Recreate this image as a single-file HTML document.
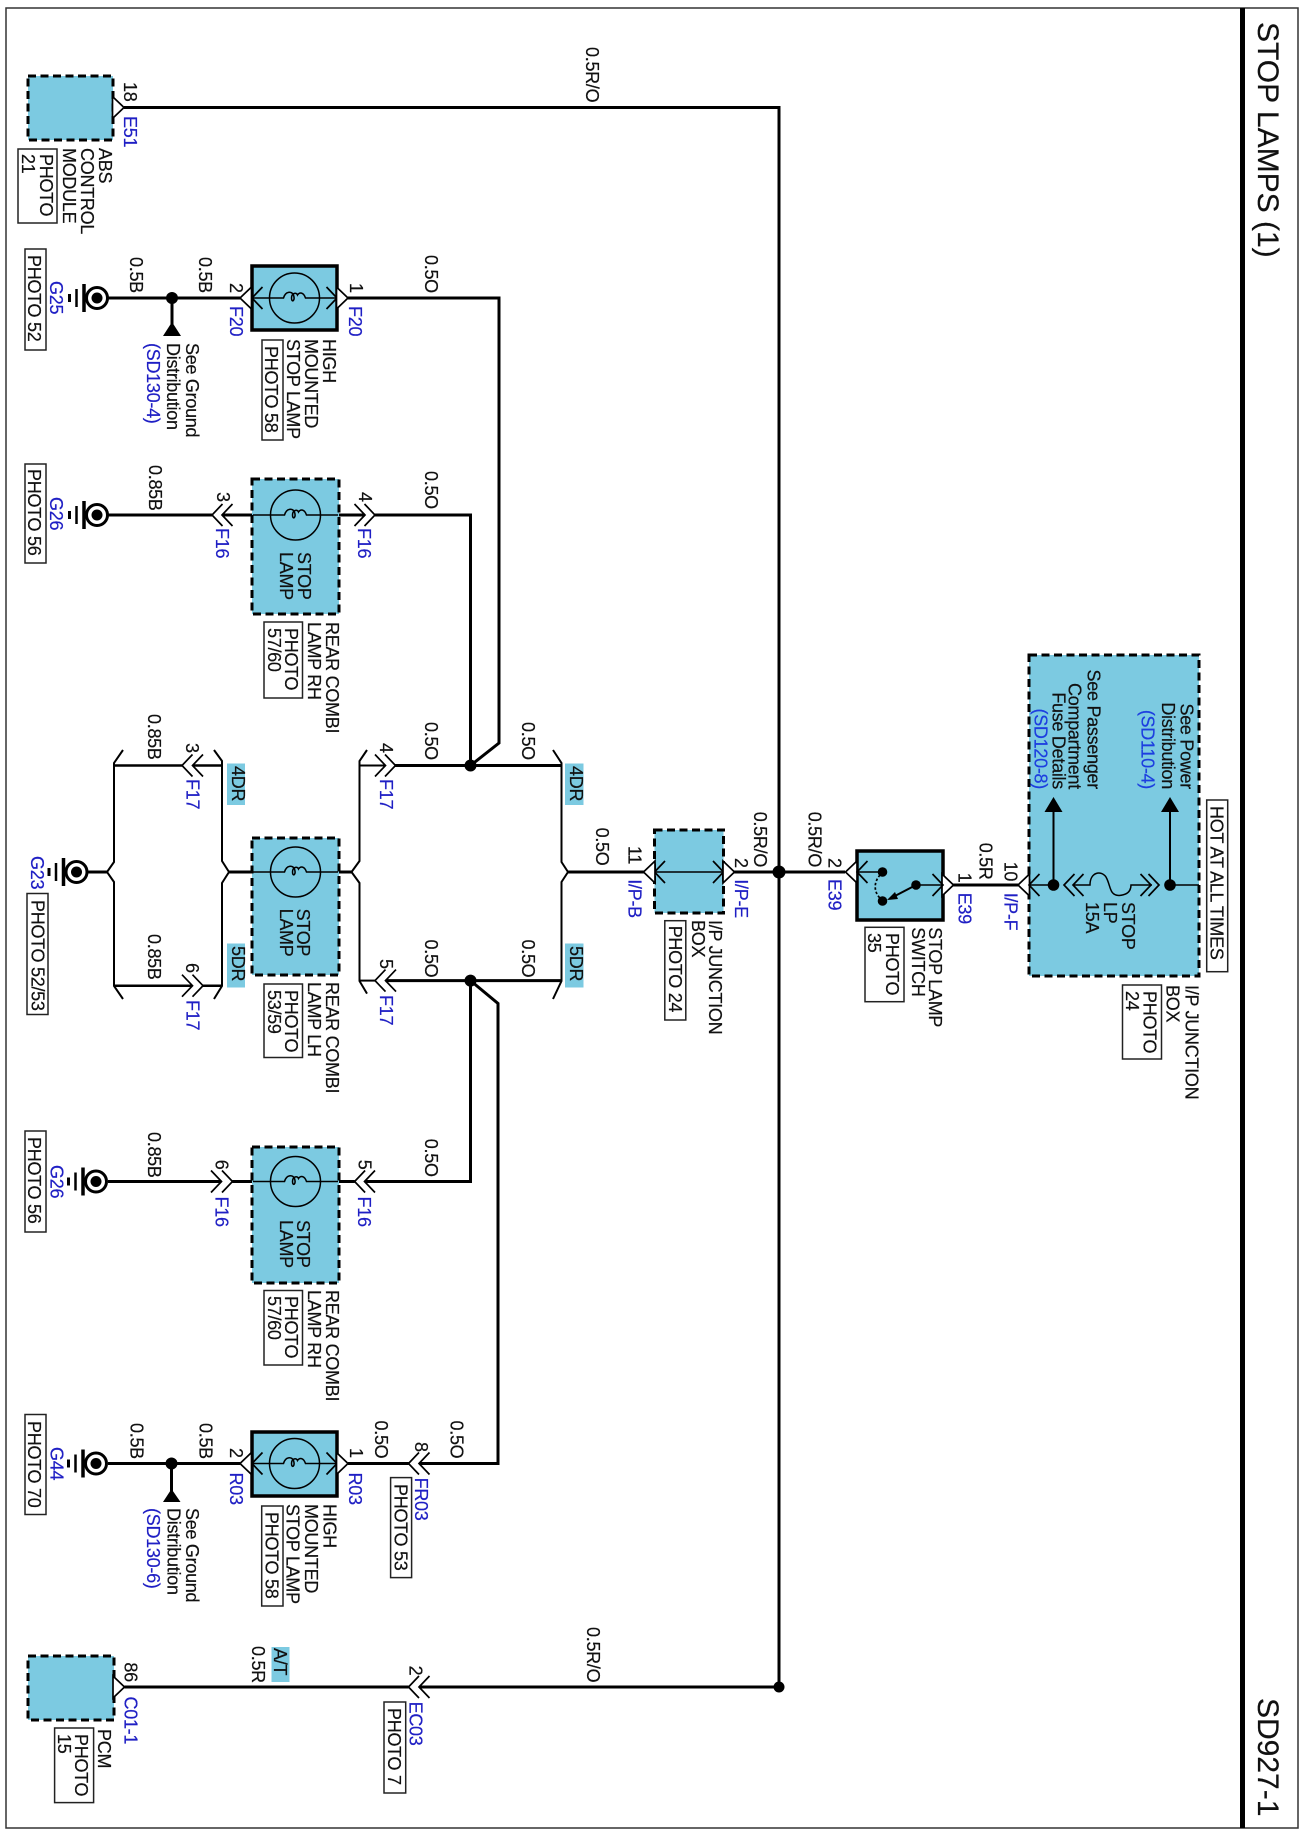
<!DOCTYPE html>
<html><head><meta charset="utf-8"><style>
html,body{margin:0;padding:0;background:#fff}
svg{display:block}
text{font-family:"Liberation Sans",sans-serif;font-size:18px;letter-spacing:-.28px;fill:#111;stroke:#111;stroke-width:.2}
.b{fill:#1f1fc4;stroke:#1f1fc4}
.w{fill:none;stroke:#000;stroke-width:3}
.t{fill:none;stroke:#000;stroke-width:2}
.f{fill:none;stroke:#000;stroke-width:1.5}
.d{fill:#7ccae1;stroke:#000;stroke-width:3;stroke-dasharray:8 4.5}
.s{fill:#7ccae1;stroke:#000;stroke-width:3.5}
.p{fill:#fff;stroke:#222;stroke-width:1.5}
.tag{fill:#7ccae1}
</style></head><body>
<svg xmlns="http://www.w3.org/2000/svg" width="1304" height="1834" viewBox="0 0 1304 1834">
<defs>
<g id="gnd"><circle cx="97" cy="0" r="10.5" fill="#fff" stroke="#000" stroke-width="3"/><circle cx="97" cy="0" r="5.5" fill="#000"/><path d="M84 -14V14" stroke="#000" stroke-width="3.5" fill="none"/><path d="M76.5 -9V9" stroke="#000" stroke-width="2.5" fill="none"/><path d="M69.5 -4V4" stroke="#000" stroke-width="3" fill="none"/></g>
<path id="cl" d="M10.5 -11L0 0L10.5 11" fill="none" stroke="#000" stroke-width="1.7"/>
<path id="cr" d="M-10.5 -11L0 0L-10.5 11" fill="none" stroke="#000" stroke-width="1.7"/>
<path id="wl" d="M11.5 -11L0 0L11.5 11Z" fill="#fff" stroke="#000" stroke-width="1.7"/>
<path id="wr" d="M-11.5 -11L0 0L-11.5 11Z" fill="#fff" stroke="#000" stroke-width="1.7"/>
<g id="lamp"><circle r="25" fill="none" stroke="#000" stroke-width="1.5"/><path d="M-42.5 0H-11C-9 -7 -3 -7 -1 -3C1 3 -3 5 -3 0C-3 -5 2 -6 3 -3C5 -6 9 -6 11 0H42.5" fill="none" stroke="#000" stroke-width="1.5"/></g>
</defs>
<rect width="1304" height="1834" fill="#fff"/>

<!-- frame -->
<rect x="6" y="8" width="1292" height="1820" fill="none" stroke="#333" stroke-width="1.5"/>
<path d="M1242.5 8V1828" stroke="#000" stroke-width="5" fill="none"/>
<text style="font-size:30px;letter-spacing:0" transform="translate(1258 22) rotate(90)">STOP LAMPS (1)</text>
<text style="font-size:30px;letter-spacing:0" transform="translate(1258 1698) rotate(90)">SD927-1</text>

<!-- boxes -->
<rect class="d" x="28" y="76" width="85" height="64"/>
<rect class="s" x="252" y="266" width="85" height="64"/>
<rect class="d" x="252" y="479" width="87" height="135"/>
<rect class="d" x="252" y="838" width="87" height="137"/>
<rect class="d" x="252" y="1147" width="87" height="136"/>
<rect class="s" x="252" y="1432" width="85" height="64"/>
<rect class="d" x="28" y="1656" width="86" height="64"/>
<rect class="d" x="654.5" y="830" width="69" height="83"/>
<rect class="s" x="857" y="851" width="86" height="69"/>
<rect class="d" x="1029" y="655" width="170" height="321"/>

<!-- tags -->
<rect class="tag" x="227" y="763.5" width="18" height="41.5"/>
<rect class="tag" x="227" y="943.5" width="18" height="44"/>
<rect class="tag" x="565" y="763.5" width="18.5" height="41.5"/>
<rect class="tag" x="565" y="943.5" width="18.5" height="44"/>
<rect class="tag" x="271.5" y="1647" width="18" height="35"/>

<!-- main wires -->
<path class="w" d="M124 107.5H779V1687H419"/>
<path class="w" d="M408.5 1687H124.5"/>
<path class="w" d="M348 298H499V743L470.5 765.5"/>
<path class="w" d="M375 515H470.5V765.5"/>
<path class="w" d="M395 765.5H561"/>
<path class="t" d="M385.5 765.5H359.5"/>
<path class="w" d="M385.5 980.6H561"/>
<path class="t" d="M375 980.6H359.5"/>
<path class="w" d="M470.5 980.6V1181.5H364.5"/>
<path class="w" d="M470.5 980.6L498 1003.5V1463.5H419"/>
<path class="w" d="M408.5 1463.5H348"/>
<path class="w" d="M108 298H240"/>
<path class="w" d="M108 515H212"/>
<path class="w" d="M222 515H252M339 515H365"/>
<path class="w" d="M108 1181.5H221.5M232.5 1181.5H252M339 1181.5H354.6"/>
<path class="w" d="M108 1463.5H240"/>
<path class="w" d="M172 298V326M171.5 1463.5V1492"/>
<path class="w" d="M87 872H107"/>
<path class="w" d="M229 872H252M339 872H351.5"/>
<path class="w" d="M568 872H644M734 872H845"/>
<path class="w" d="M953 885H1018"/>

<!-- brackets -->
<path class="t" d="M123 750L114 763V862L107 872L114 882V986L123 999"/>
<path class="t" d="M214 750L222 761V861L229 872L222 883V986L214 999"/>
<path class="t" d="M367 750L359.5 761V861L351.5 872L359.5 883V981L367 993.6"/>
<path class="t" d="M553 750L561.5 763V862L568 872L561.5 882V981L553 999"/>
<path class="w" style="stroke-width:2.5" d="M114 765.5H182M192.5 765.5H222M114 985.7H192.5M203 985.7H222"/>

<!-- lamps -->
<use href="#lamp" x="294.5" y="298"/>
<use href="#lamp" x="295.5" y="515"/>
<use href="#lamp" x="295.5" y="872"/>
<use href="#lamp" x="295.5" y="1181.5"/>
<use href="#lamp" x="294.5" y="1463.5"/>

<!-- inner chevrons -->
<use href="#cl" x="252" y="298"/><use href="#cr" x="337" y="298"/>
<use href="#cl" x="252" y="1463.5"/><use href="#cr" x="337" y="1463.5"/>
<use href="#cl" x="654.5" y="872"/><use href="#cr" x="723.5" y="872"/>
<path class="f" d="M654.5 872H723.5"/>

<!-- outer white connectors -->
<use href="#wr" x="124" y="107.5"/>
<use href="#wl" x="240" y="298"/><use href="#wr" x="348" y="298"/>
<use href="#wl" x="240" y="1463.5"/><use href="#wr" x="348" y="1463.5"/>
<use href="#wr" x="124.5" y="1687"/>
<use href="#wl" x="643.5" y="872"/><use href="#wr" x="734.5" y="872"/>
<use href="#wl" x="845.5" y="872"/><use href="#wr" x="953.5" y="885"/>
<use href="#wl" x="1018" y="885"/>

<!-- double chevrons -->
<use href="#cl" x="212" y="515"/><use href="#cl" x="222" y="515"/>
<use href="#cr" x="365" y="515"/><use href="#cr" x="375" y="515"/>
<use href="#cl" x="182" y="765.5"/><use href="#cl" x="192.5" y="765.5"/>
<use href="#cr" x="385.5" y="765.5"/><use href="#cr" x="395.5" y="765.5"/>
<use href="#cr" x="192.5" y="985.7"/><use href="#cr" x="203" y="985.7"/>
<use href="#cl" x="375" y="980.6"/><use href="#cl" x="385.5" y="980.6"/>
<use href="#cr" x="221.5" y="1181.5"/><use href="#cr" x="232.5" y="1181.5"/>
<use href="#cl" x="354.6" y="1181.5"/><use href="#cl" x="364.5" y="1181.5"/>
<use href="#cl" x="408.5" y="1463.5"/><use href="#cl" x="419" y="1463.5"/>
<use href="#cl" x="408.5" y="1687"/><use href="#cl" x="419" y="1687"/>

<!-- dots -->
<g fill="#000">
<circle cx="779" cy="872" r="6.5"/><circle cx="779" cy="1687" r="5.5"/>
<circle cx="470.5" cy="765.5" r="6"/><circle cx="470.5" cy="980.6" r="6"/>
<circle cx="172" cy="298" r="6"/><circle cx="171.5" cy="1463.5" r="6"/>
<path d="M172 322L163 336H181Z"/><path d="M171.5 1489L163 1502H180.5Z"/>
</g>

<!-- grounds -->
<use href="#gnd" y="298"/><use href="#gnd" y="515"/>
<use href="#gnd" x="-20.5" y="872"/>
<use href="#gnd" x="-1" y="1181.5"/><use href="#gnd" x="-1" y="1463.5"/>

<!-- switch -->
<use href="#cl" x="857" y="872"/><use href="#cr" x="943" y="885"/>
<path class="f" d="M857 872H882M916 885H943"/>
<path d="M880 875C873 883 874 893 881 899" fill="none" stroke="#000" stroke-width="1.7" stroke-dasharray="2.5 2"/>
<path d="M916 885L893 897" stroke="#000" stroke-width="2" fill="none"/>
<path d="M887 900L895 892L898 899Z" fill="#000"/>
<g fill="#000"><circle cx="882.5" cy="872" r="4.8"/><circle cx="882.5" cy="901" r="4.8"/><circle cx="916" cy="885" r="4.8"/></g>

<!-- junction box internals -->
<path class="f" d="M1029 885H1054M1073 885H1090C1090 872 1101 870 1106 877C1111 886 1109 895 1119 895.5C1126 895 1131 892 1131 885H1152M1170 885H1199"/>
<use href="#cl" x="1029" y="885"/>
<use href="#cl" x="1064" y="885"/><use href="#cl" x="1073" y="885"/>
<use href="#cr" x="1151" y="885"/><use href="#cr" x="1159" y="885"/>
<path d="M1053.5 885V808M1170 885V808" stroke="#000" stroke-width="2" fill="none"/>
<g fill="#000"><circle cx="1053.5" cy="885" r="5.8"/><circle cx="1170" cy="885" r="5.8"/>
<path d="M1053.5 797L1044.5 812H1062.5Z"/><path d="M1170 797L1161 812H1179Z"/></g>

<!-- photo boxes -->
<rect class="p" x="18" y="149" width="39" height="74"/>
<rect class="p" x="25" y="249" width="21" height="101"/>
<rect class="p" x="262" y="340" width="21" height="100"/>
<rect class="p" x="25" y="464" width="21" height="99"/>
<rect class="p" x="264" y="622" width="38.5" height="76"/>
<rect class="p" x="27" y="893.5" width="21" height="121"/>
<rect class="p" x="264" y="984" width="38.5" height="73.5"/>
<rect class="p" x="25" y="1131" width="21" height="101"/>
<rect class="p" x="264" y="1290.5" width="38.5" height="74.5"/>
<rect class="p" x="25" y="1414.5" width="21" height="100"/>
<rect class="p" x="261.7" y="1506" width="21.3" height="100"/>
<rect class="p" x="390.6" y="1477.6" width="21" height="100"/>
<rect class="p" x="54.6" y="1728" width="39" height="74.6"/>
<rect class="p" x="384" y="1702" width="21.7" height="91"/>
<rect class="p" x="664.8" y="920.7" width="21" height="99.3"/>
<rect class="p" x="865" y="927.3" width="39" height="74.4"/>
<rect class="p" x="1122.5" y="985" width="39" height="74"/>
<rect class="p" x="1206.7" y="800" width="21" height="171.7"/>

<!-- labels: black -->
<text transform="translate(586 47) rotate(90)">0.5R/O</text>
<text transform="translate(587 1627) rotate(90)">0.5R/O</text>
<text transform="translate(124 82) rotate(90)">18</text>
<text transform="translate(99 148) rotate(90)">ABS</text>
<text transform="translate(81 148) rotate(90)">CONTROL</text>
<text transform="translate(63 148) rotate(90)">MODULE</text>
<text transform="translate(40 154) rotate(90)">PHOTO</text>
<text transform="translate(22 154) rotate(90)">21</text>

<text transform="translate(130 257) rotate(90)">0.5B</text>
<text transform="translate(199 257) rotate(90)">0.5B</text>
<text transform="translate(230 283) rotate(90)">2</text>
<text transform="translate(350 283) rotate(90)">1</text>
<text transform="translate(425 255) rotate(90)">0.5O</text>
<text transform="translate(28 255) rotate(90)">PHOTO 52</text>
<text transform="translate(186 343) rotate(90)">See Ground</text>
<text transform="translate(167 343) rotate(90)">Distribution</text>
<text transform="translate(323 339) rotate(90)">HIGH</text>
<text transform="translate(305 339) rotate(90)">MOUNTED</text>
<text transform="translate(287 339) rotate(90)">STOP LAMP</text>
<text transform="translate(265 346) rotate(90)">PHOTO 58</text>

<text transform="translate(149 465) rotate(90)">0.85B</text>
<text transform="translate(217 492) rotate(90)">3</text>
<text transform="translate(359 492) rotate(90)">4</text>
<text transform="translate(425 471) rotate(90)">0.5O</text>
<text transform="translate(28 469) rotate(90)">PHOTO 56</text>
<text transform="translate(298 552) rotate(90)">STOP</text>
<text transform="translate(280 552) rotate(90)">LAMP</text>
<text transform="translate(326 622) rotate(90)">REAR COMBI</text>
<text transform="translate(308 622) rotate(90)">LAMP RH</text>
<text transform="translate(285 628) rotate(90)">PHOTO</text>
<text transform="translate(268 628) rotate(90)">57/60</text>

<text transform="translate(148 714) rotate(90)">0.85B</text>
<text transform="translate(148 934) rotate(90)">0.85B</text>
<text transform="translate(186 743) rotate(90)">3</text>
<text transform="translate(186 963) rotate(90)">6</text>
<text transform="translate(232 766) rotate(90)">4DR</text>
<text transform="translate(232 946) rotate(90)">5DR</text>
<text transform="translate(570 766) rotate(90)">4DR</text>
<text transform="translate(570 946) rotate(90)">5DR</text>
<text transform="translate(380 743) rotate(90)">4</text>
<text transform="translate(380 959) rotate(90)">5</text>
<text transform="translate(425 722) rotate(90)">0.5O</text>
<text transform="translate(522 722) rotate(90)">0.5O</text>
<text transform="translate(425 939.5) rotate(90)">0.5O</text>
<text transform="translate(522 939.5) rotate(90)">0.5O</text>
<text transform="translate(596 827.6) rotate(90)">0.5O</text>
<text transform="translate(31.5 900) rotate(90)">PHOTO 52/53</text>
<text transform="translate(297 908.6) rotate(90)">STOP</text>
<text transform="translate(280 908.6) rotate(90)">LAMP</text>
<text transform="translate(326 982) rotate(90)">REAR COMBI</text>
<text transform="translate(308 982) rotate(90)">LAMP LH</text>
<text transform="translate(285 990) rotate(90)">PHOTO</text>
<text transform="translate(268 990) rotate(90)">53/59</text>

<text transform="translate(148 1132) rotate(90)">0.85B</text>
<text transform="translate(215.5 1159.7) rotate(90)">6</text>
<text transform="translate(358.6 1159.7) rotate(90)">5</text>
<text transform="translate(425 1138.8) rotate(90)">0.5O</text>
<text transform="translate(28 1137) rotate(90)">PHOTO 56</text>
<text transform="translate(297 1220) rotate(90)">STOP</text>
<text transform="translate(280 1220) rotate(90)">LAMP</text>
<text transform="translate(326 1290) rotate(90)">REAR COMBI</text>
<text transform="translate(308 1290) rotate(90)">LAMP RH</text>
<text transform="translate(285 1296) rotate(90)">PHOTO</text>
<text transform="translate(268 1296) rotate(90)">57/60</text>

<text transform="translate(130.5 1423) rotate(90)">0.5B</text>
<text transform="translate(199.7 1423) rotate(90)">0.5B</text>
<text transform="translate(230 1448) rotate(90)">2</text>
<text transform="translate(350 1448) rotate(90)">1</text>
<text transform="translate(375 1420.5) rotate(90)">0.5O</text>
<text transform="translate(450.7 1420.5) rotate(90)">0.5O</text>
<text transform="translate(415 1442) rotate(90)">8</text>
<text transform="translate(394.6 1484) rotate(90)">PHOTO 53</text>
<text transform="translate(28 1421) rotate(90)">PHOTO 70</text>
<text transform="translate(186 1508) rotate(90)">See Ground</text>
<text transform="translate(167.6 1508) rotate(90)">Distribution</text>
<text transform="translate(323.4 1504) rotate(90)">HIGH</text>
<text transform="translate(305 1504) rotate(90)">MOUNTED</text>
<text transform="translate(286.6 1504) rotate(90)">STOP LAMP</text>
<text transform="translate(265.7 1512) rotate(90)">PHOTO 58</text>

<text transform="translate(124.5 1662.4) rotate(90)">86</text>
<text transform="translate(98 1729) rotate(90)">PCM</text>
<text transform="translate(75 1734) rotate(90)">PHOTO</text>
<text transform="translate(58 1734) rotate(90)">15</text>
<text transform="translate(252 1646) rotate(90)">0.5R</text>
<text transform="translate(274 1648) rotate(90)">A/T</text>
<text transform="translate(409.5 1665.6) rotate(90)">2</text>
<text transform="translate(388 1708) rotate(90)">PHOTO 7</text>

<text transform="translate(628.4 846) rotate(90)">11</text>
<text transform="translate(734.8 858) rotate(90)">2</text>
<text transform="translate(754 811.7) rotate(90)">0.5R/O</text>
<text transform="translate(808.7 811.7) rotate(90)">0.5R/O</text>
<text transform="translate(709 920) rotate(90)">I/P JUNCTION</text>
<text transform="translate(692 920) rotate(90)">BOX</text>
<text transform="translate(669 925.7) rotate(90)">PHOTO 24</text>

<text transform="translate(828.6 858) rotate(90)">2</text>
<text transform="translate(958.7 872.7) rotate(90)">1</text>
<text transform="translate(979.7 842.7) rotate(90)">0.5R</text>
<text transform="translate(1004.6 861.7) rotate(90)">10</text>
<text transform="translate(929 927.3) rotate(90)">STOP LAMP</text>
<text transform="translate(912 927.3) rotate(90)">SWITCH</text>
<text transform="translate(886 933) rotate(90)">PHOTO</text>
<text transform="translate(868 933) rotate(90)">35</text>

<text text-anchor="end" transform="translate(1180.6 789) rotate(90)">See Power</text>
<text text-anchor="end" transform="translate(1162 789) rotate(90)">Distribution</text>
<text text-anchor="end" transform="translate(1087.7 789) rotate(90)">See Passenger</text>
<text text-anchor="end" transform="translate(1068.5 789) rotate(90)">Compartment</text>
<text text-anchor="end" transform="translate(1052.5 789) rotate(90)">Fuse Details</text>
<text transform="translate(1122 902) rotate(90)">STOP</text>
<text transform="translate(1104 902) rotate(90)">LP</text>
<text transform="translate(1086 902) rotate(90)">15A</text>
<text transform="translate(1210.5 806) rotate(90)">HOT AT ALL TIMES</text>
<text transform="translate(1185.6 985) rotate(90)">I/P JUNCTION</text>
<text transform="translate(1166.5 985) rotate(90)">BOX</text>
<text transform="translate(1143.5 991) rotate(90)">PHOTO</text>
<text transform="translate(1126 991) rotate(90)">24</text>

<!-- labels: blue -->
<text class="b" transform="translate(124 116) rotate(90)">E51</text>
<text class="b" transform="translate(230 306) rotate(90)">F20</text>
<text class="b" transform="translate(349 306) rotate(90)">F20</text>
<text class="b" transform="translate(50 281) rotate(90)">G25</text>
<text class="b" transform="translate(147 343) rotate(90)">(SD130-4)</text>
<text class="b" transform="translate(216 528) rotate(90)">F16</text>
<text class="b" transform="translate(358 528) rotate(90)">F16</text>
<text class="b" transform="translate(50 497) rotate(90)">G26</text>
<text class="b" transform="translate(186.6 779) rotate(90)">F17</text>
<text class="b" transform="translate(186.6 1000) rotate(90)">F17</text>
<text class="b" transform="translate(380 779) rotate(90)">F17</text>
<text class="b" transform="translate(380 995) rotate(90)">F17</text>
<text class="b" transform="translate(31 856) rotate(90)">G23</text>
<text class="b" transform="translate(215.5 1196.5) rotate(90)">F16</text>
<text class="b" transform="translate(358 1196.5) rotate(90)">F16</text>
<text class="b" transform="translate(50.6 1165) rotate(90)">G26</text>
<text class="b" transform="translate(230 1472.5) rotate(90)">R03</text>
<text class="b" transform="translate(349 1472.5) rotate(90)">R03</text>
<text class="b" transform="translate(415 1477.6) rotate(90)">FR03</text>
<text class="b" transform="translate(50.6 1447) rotate(90)">G44</text>
<text class="b" transform="translate(147 1508) rotate(90)">(SD130-6)</text>
<text class="b" transform="translate(124.5 1696.5) rotate(90)">C01-1</text>
<text class="b" transform="translate(409.5 1701.6) rotate(90)">EC03</text>
<text class="b" transform="translate(628.4 879.3) rotate(90)">I/P-B</text>
<text class="b" transform="translate(735 879.3) rotate(90)">I/P-E</text>
<text class="b" transform="translate(828.6 879) rotate(90)">E39</text>
<text class="b" transform="translate(958.7 892.7) rotate(90)">E39</text>
<text class="b" transform="translate(1004.6 892.7) rotate(90)">I/P-F</text>
<text class="b" style="fill:#1c3ee0;stroke:#1c3ee0" text-anchor="end" transform="translate(1141.6 789) rotate(90)">(SD110-4)</text>
<text class="b" style="fill:#1c3ee0;stroke:#1c3ee0" text-anchor="end" transform="translate(1034.5 789) rotate(90)">(SD120-8)</text>
</svg>
</body></html>
